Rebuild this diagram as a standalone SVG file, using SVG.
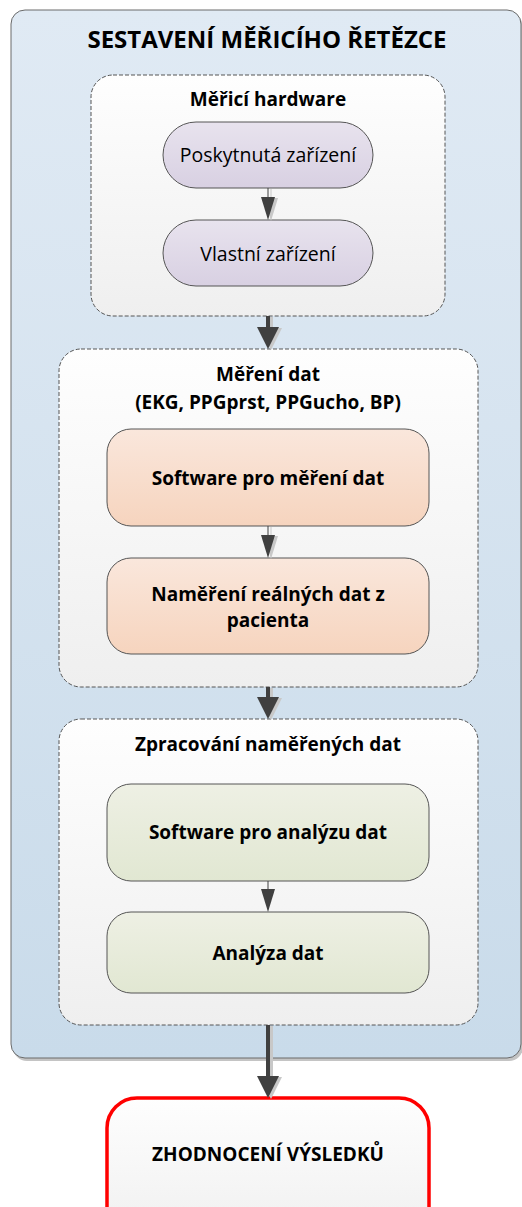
<svg xmlns="http://www.w3.org/2000/svg" width="522" height="1207" viewBox="0 0 522 1207">
<style>
text{font-family:"Open Sans","Liberation Sans",sans-serif;fill:#000;text-anchor:middle}
.title{font-size:24px;font-weight:bold}
.glab{font-size:19px;font-weight:bold}
.pt{font-size:19.5px}
.bt{font-size:19px;font-weight:bold}
.grp{fill:url(#gW);stroke:#555;stroke-width:1;stroke-dasharray:4 2}
.pill{fill:url(#gP);stroke:#555;stroke-width:1}
.ora{fill:url(#gO);stroke:#555;stroke-width:1}
.grn{fill:url(#gG);stroke:#555;stroke-width:1}
.ln{stroke:#404040;fill:none}
.sh{stroke:#c8c8c8;fill:none}
</style>
<defs>
<linearGradient id="gB" x1="0" y1="0" x2="0" y2="1"><stop offset="0" stop-color="#e0eaf4"/><stop offset="1" stop-color="#c9dbea"/></linearGradient>
<linearGradient id="gW" x1="0" y1="0" x2="0" y2="1"><stop offset="0" stop-color="#fefefe"/><stop offset="1" stop-color="#efefef"/></linearGradient>
<linearGradient id="gP" x1="0" y1="0" x2="0" y2="1"><stop offset="0" stop-color="#e8e3ee"/><stop offset="1" stop-color="#d8d0e2"/></linearGradient>
<linearGradient id="gO" x1="0" y1="0" x2="0" y2="1"><stop offset="0" stop-color="#fae7dc"/><stop offset="1" stop-color="#f6d4be"/></linearGradient>
<linearGradient id="gG" x1="0" y1="0" x2="0" y2="1"><stop offset="0" stop-color="#eef0e4"/><stop offset="1" stop-color="#e1e7d2"/></linearGradient>
<marker id="aT" markerUnits="userSpaceOnUse" markerWidth="24" markerHeight="16" refX="0" refY="7" orient="auto"><path d="M0,0 L23,7 L0,14 z" fill="#404040"/></marker>
<marker id="aTs" markerUnits="userSpaceOnUse" markerWidth="24" markerHeight="16" refX="0" refY="7" orient="auto"><path d="M0,0 L23,7 L0,14 z" fill="#c8c8c8"/></marker>
<marker id="aK" markerUnits="userSpaceOnUse" markerWidth="24" markerHeight="24" refX="0" refY="11" orient="auto"><path d="M0,0 L22,11 L0,22 z" fill="#404040"/></marker>
<marker id="aKs" markerUnits="userSpaceOnUse" markerWidth="24" markerHeight="24" refX="0" refY="11" orient="auto"><path d="M0,0 L22,11 L0,22 z" fill="#c8c8c8"/></marker>
</defs>

<g id="container">
<rect x="13" y="13" width="510" height="1048" rx="14" fill="#c4c4c4"/>
<rect x="11" y="10" width="510" height="1048" rx="14" fill="url(#gB)" stroke="#6a6a6a" stroke-width="1"/>
<text class="title" x="267" y="48">SESTAVENÍ MĚŘICÍHO ŘETĚZCE</text>
</g>

<g id="grp-hardware">
<rect class="grp" x="91" y="75" width="354" height="241" rx="22"/>
<text class="glab" x="268" y="106">Měřicí hardware</text>
</g>
<g id="n-poskytnuta">
<rect class="pill" x="163" y="122" width="210" height="66" rx="33"/>
<text class="pt" x="268" y="162">Poskytnutá zařízení</text>
</g>
<g id="n-vlastni">
<rect class="pill" x="163" y="220" width="210" height="66" rx="33"/>
<text class="pt" x="268" y="261">Vlastní zařízení</text>
</g>

<g id="grp-mereni">
<rect class="grp" x="59" y="349" width="419" height="338" rx="22"/>
<text class="glab" x="268" y="381">Měření dat</text>
<text class="glab" x="268" y="409">(EKG, PPGprst, PPGucho, BP)</text>
</g>
<g id="n-sw-mereni">
<rect class="ora" x="107" y="429" width="322" height="97" rx="24"/>
<text class="bt" x="268" y="485">Software pro měření dat</text>
</g>
<g id="n-namereni">
<rect class="ora" x="107" y="558" width="322" height="96" rx="24"/>
<text class="bt" x="268" y="601">Naměření reálných dat z</text>
<text class="bt" x="268" y="627">pacienta</text>
</g>

<g id="grp-zpracovani">
<rect class="grp" x="59" y="719" width="419" height="306" rx="22"/>
<text class="glab" x="268" y="751">Zpracování naměřených dat</text>
</g>
<g id="n-sw-analyza">
<rect class="grn" x="107" y="784" width="322" height="97" rx="24"/>
<text class="bt" x="268" y="839">Software pro analýzu dat</text>
</g>
<g id="n-analyza">
<rect class="grn" x="107" y="912" width="322" height="81" rx="24"/>
<text class="bt" x="268" y="960">Analýza dat</text>
</g>

<g id="n-zhodnoceni">
<rect x="107" y="1098" width="322" height="150" rx="30" fill="url(#gW)" stroke="#ff0000" stroke-width="3.5"/>
<text class="bt" x="268" y="1161">ZHODNOCENÍ VÝSLEDKŮ</text>
</g>

<g id="connectors">
<path class="sh" d="M271,189 V198" stroke-width="1" marker-end="url(#aTs)"/>
<path class="ln" d="M268,188 V197" stroke-width="1" marker-end="url(#aT)"/>
<path class="sh" d="M271,317 V328" stroke-width="4" marker-end="url(#aKs)"/>
<path class="ln" d="M268,316 V327" stroke-width="4" marker-end="url(#aK)"/>
<path class="sh" d="M271,527 V536" stroke-width="1" marker-end="url(#aTs)"/>
<path class="ln" d="M268,526 V535" stroke-width="1" marker-end="url(#aT)"/>
<path class="sh" d="M271,688 V698" stroke-width="4" marker-end="url(#aKs)"/>
<path class="ln" d="M268,687 V697" stroke-width="4" marker-end="url(#aK)"/>
<path class="ln" d="M268,881 V889" stroke-width="1" marker-end="url(#aT)"/>
<path class="sh" d="M271,1026 V1077" stroke-width="4" marker-end="url(#aKs)"/>
<path class="ln" d="M268,1025 V1076" stroke-width="4" marker-end="url(#aK)"/>
</g>
</svg>
